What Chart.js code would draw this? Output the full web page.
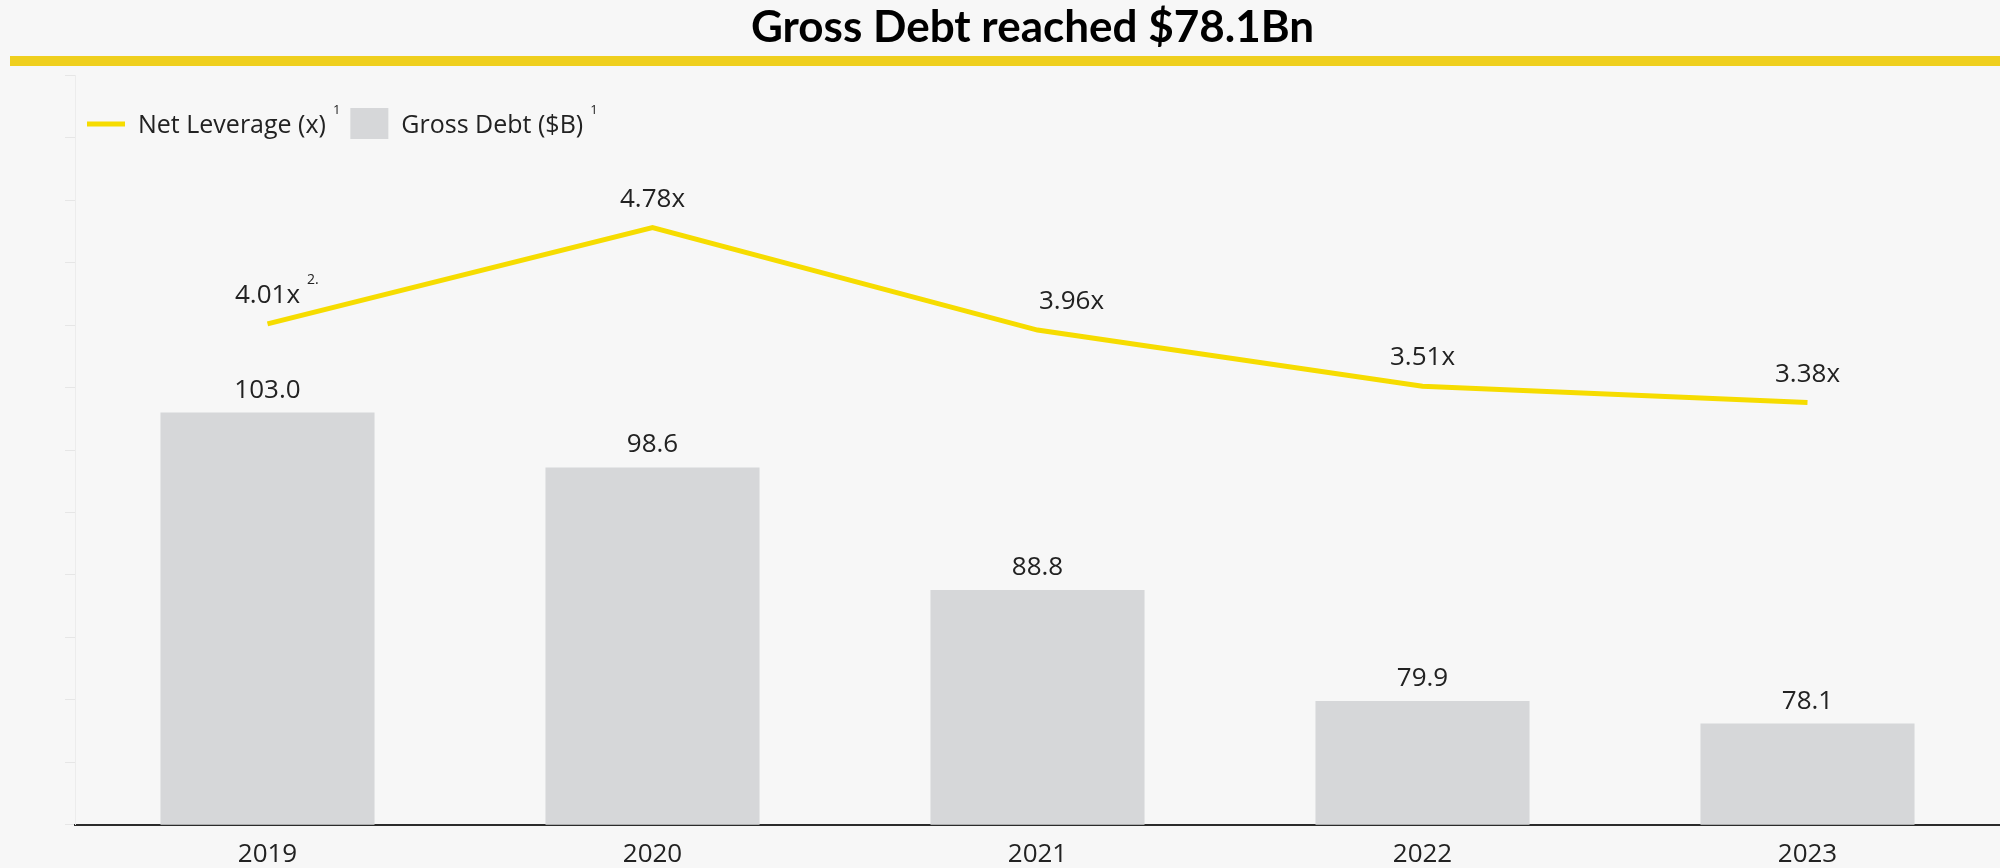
<!DOCTYPE html>
<html lang="en">
<head>
<meta charset="utf-8">
<title>Gross Debt reached $78.1Bn</title>
<script src="https://cdn.jsdelivr.net/npm/chart.js@4.4.1/dist/chart.umd.min.js"></script>
<style>
  html, body { margin: 0; padding: 0; background: #f7f7f7; overflow: hidden; }
  .chart-wrap { position: relative; width: 2000px; height: 868px; }
</style>
</head>
<body>
<div class="chart-wrap"><canvas id="debtChart"></canvas></div>
<script>
// Data
const years = ['2019', '2020', '2021', '2022', '2023'];
const grossDebt = [103.0, 98.6, 88.8, 79.9, 78.1];
const netLeverage = [4.01, 4.78, 3.96, 3.51, 3.38];
const leverageNotes = ['2.', '', '', '', ''];
const seriesNames = ['Net Leverage (x)', 'Gross Debt ($B)'];
const seriesNotes = ['1', '1'];
const chartTitle = 'Gross Debt reached $78.1Bn';

const BODY = "'Open Sans', 'Noto Sans', sans-serif";
const HEAD = "Lato, 'Open Sans', sans-serif";
const YELLOW = '#f6dc00';
const RULE = '#efcf1e';
const BAR_GREY = '#d6d7d9';
const INK = '#222222';

// thick yellow rule under the heading
const titleRule = {
    id: 'titleRule',
    beforeDraw(chart, args, opts) {
        const ctx = chart.ctx;
        ctx.save();
        ctx.fillStyle = opts.color;
        ctx.fillRect(opts.left, opts.top, chart.width - opts.left, opts.height);
        ctx.restore();
    }
};

// legend sits inside the plot, top left, with footnote marks
const legendInside = {
    id: 'legendInside',
    afterDraw(chart, args, opts) {
        const ctx = chart.ctx;
        const base = opts.baseline;
        let x = opts.left;
        ctx.save();
        ctx.textAlign = 'left';
        ctx.textBaseline = 'alphabetic';
        chart.data.datasets.forEach((ds, i) => {
            if (ds.type === 'line') {
                ctx.strokeStyle = ds.borderColor;
                ctx.lineWidth = ds.borderWidth;
                ctx.beginPath();
                ctx.moveTo(x, base - 9);
                ctx.lineTo(x + opts.swatch, base - 9);
                ctx.stroke();
            } else {
                ctx.fillStyle = ds.backgroundColor;
                ctx.fillRect(x, base - 25, opts.swatch, 31);
            }
            x += opts.swatch + opts.gap;
            ctx.fillStyle = INK;
            ctx.font = `25px ${BODY}`;
            ctx.fillText(ds.label, x, base);
            x += ctx.measureText(ds.label).width + 7;
            ctx.font = `13px ${BODY}`;
            ctx.fillText(seriesNotes[i], x, base - 19);
            x += ctx.measureText(seriesNotes[i]).width + 10;
        });
        ctx.restore();
    }
};

// value labels above bars and line points
const valueLabels = {
    id: 'valueLabels',
    afterDatasetsDraw(chart, args, opts) {
        const ctx = chart.ctx;
        ctx.save();
        ctx.fillStyle = INK;
        ctx.textBaseline = 'alphabetic';
        chart.data.datasets.forEach((ds, i) => {
            const meta = chart.getDatasetMeta(i);
            meta.data.forEach((el, j) => {
                const v = ds.data[j];
                ctx.font = `26px ${BODY}`;
                ctx.textAlign = 'center';
                if (ds.type === 'bar') {
                    ctx.fillText(v.toFixed(1), el.x, el.y - 15);
                } else {
                    const txt = v.toFixed(2) + 'x';
                    const lx = el.x + (opts.lineShift[j] || 0);
                    const ly = el.y - 21;
                    ctx.fillText(txt, lx, ly);
                    if (leverageNotes[j]) {
                        const w = ctx.measureText(txt).width;
                        ctx.font = `14px ${BODY}`;
                        ctx.textAlign = 'left';
                        ctx.fillText(leverageNotes[j], lx + w / 2 + 7, ly - 19);
                    }
                }
            });
        });
        ctx.restore();
    }
};

const ctx = document.getElementById('debtChart').getContext('2d');

new Chart(ctx, {
    data: {
        labels: years,
        datasets: [
            {
                type: 'line',
                label: seriesNames[0],
                data: netLeverage,
                yAxisID: 'y2',
                borderColor: YELLOW,
                backgroundColor: YELLOW,
                borderWidth: 5,
                tension: 0,
                pointRadius: 0,
                fill: false
            },
            {
                type: 'bar',
                label: seriesNames[1],
                data: grossDebt,
                yAxisID: 'y',
                backgroundColor: BAR_GREY,
                borderWidth: 0,
                barPercentage: 0.556,
                categoryPercentage: 1
            }
        ]
    },
    options: {
        responsive: true,
        maintainAspectRatio: false,
        animation: false,
        layout: {
            autoPadding: false,
            padding: { left: 65, right: 0, top: 0, bottom: 0 }
        },
        plugins: {
            legend: { display: false },
            tooltip: { enabled: false },
            title: {
                display: true,
                text: chartTitle,
                color: '#000',
                font: { family: HEAD, size: 44, weight: 'bold', lineHeight: 1 },
                padding: { top: 6, bottom: 25.2 }
            },
            titleRule: { color: RULE, left: 10, top: 56, height: 10 },
            legendInside: { left: 87, baseline: 133, swatch: 38, gap: 13 },
            valueLabels: { lineShift: { 2: 34 } }
        },
        scales: {
            x: {
                // hidden tick marks keep the labels clear of the baseline
                grid: { display: false, tickLength: 16 },
                border: { color: '#2b2b2b', width: 2 },
                ticks: {
                    color: INK,
                    padding: 0.6,
                    font: { family: BODY, size: 26, lineHeight: 1 }
                }
            },
            y: {
                position: 'left',
                min: 70,
                max: 130,
                ticks: { display: false, stepSize: 5 },
                grid: { drawOnChartArea: false, color: '#e6e6e6', tickLength: 10 },
                border: { color: '#ececec', width: 1 }
            },
            y2: {
                position: 'right',
                display: false,
                min: 0,
                max: 6
            }
        }
    },
    plugins: [titleRule, legendInside, valueLabels]
});
</script>
</body>
</html>
